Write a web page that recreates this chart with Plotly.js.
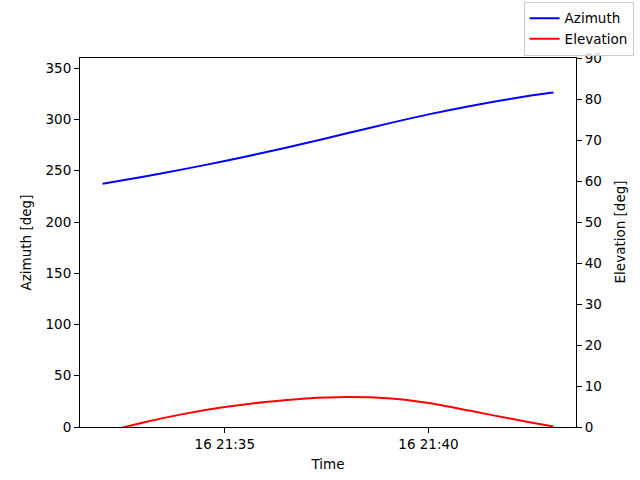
<!DOCTYPE html>
<html>
<head>
<meta charset="utf-8">
<script src="https://cdn.plot.ly/plotly-3.0.1.min.js"></script>
<style>
  html, body { margin: 0; padding: 0; background: #fff; }
  #chart { width: 640px; height: 480px; }
</style>
</head>
<body>
<div id="chart"></div>
<script>
// pass times, one reading a minute plus the last sample
const times = [
  "2024-01-16 21:32:00", "2024-01-16 21:33:00", "2024-01-16 21:34:00",
  "2024-01-16 21:35:00", "2024-01-16 21:36:00", "2024-01-16 21:37:00",
  "2024-01-16 21:38:00", "2024-01-16 21:39:00", "2024-01-16 21:40:00",
  "2024-01-16 21:41:00", "2024-01-16 21:42:00", "2024-01-16 21:43:00",
  "2024-01-16 21:43:04",
];
const azimuth = [237.3, 244.2, 251.6, 259.5, 268.0, 277.0, 286.5, 296.0, 305.0, 313.0, 320.0, 326.0, 326.3];
const elevation = [-1.4, 1.1, 3.2, 4.85, 6.1, 6.95, 7.3, 7.0, 5.85, 4.0, 2.05, 0.25, 0.1];

const FONT = { family: "DejaVu Sans, sans-serif", size: 13.5, color: "#000" };

const axisCommon = {
  showline: true,
  linecolor: "#000",
  linewidth: 1,
  ticks: "outside",
  ticklen: 5,
  tickwidth: 1,
  tickcolor: "#000",
  showgrid: false,
  zeroline: false,
  automargin: false,
  tickfont: FONT,
};

Plotly.newPlot(
  "chart",
  [
    {
      name: "Azimuth", type: "scatter", mode: "lines",
      x: times, y: azimuth, yaxis: "y",
      line: { color: "#0000ff", width: 2, shape: "spline", smoothing: 0.8 },
    },
    {
      name: "Elevation", type: "scatter", mode: "lines",
      x: times, y: elevation, yaxis: "y2",
      line: { color: "#ff0000", width: 2, shape: "spline", smoothing: 0.8 },
    },
  ],
  {
    width: 640,
    height: 480,
    // legend sits outside the axes, don't let it shrink the plot
    margin: { l: 80, r: 64, t: 58, b: 53, autoexpand: false },
    paper_bgcolor: "#fff",
    plot_bgcolor: "#fff",
    font: FONT,
    showlegend: true,
    legend: {
      xref: "container", yref: "container",
      x: 0.99, y: 0.996, xanchor: "right", yanchor: "top",
      bordercolor: "#cccccc", borderwidth: 1, bgcolor: "rgba(255,255,255,0.8)",
      tracegroupgap: 0, itemwidth: 30,
      font: FONT,
    },
    xaxis: {
      ...axisCommon,
      mirror: true,
      type: "date",
      range: ["2024-01-16 21:31:26.8", "2024-01-16 21:43:37.2"],
      tick0: "2024-01-16 21:30:00",
      dtick: 300000,
      tickformat: "%d %H:%M",
      title: { text: "Time", font: FONT, standoff: 8 },
    },
    yaxis: {
      ...axisCommon,
      range: [0, 360],
      dtick: 50,
      title: { text: "Azimuth [deg]", font: FONT, standoff: 10 },
    },
    yaxis2: {
      ...axisCommon,
      overlaying: "y",
      side: "right",
      range: [0, 90],
      dtick: 10,
    },
    // the overlaying axis title lands inside the plot, so place it by hand
    annotations: [
      {
        text: "Elevation [deg]", font: FONT, showarrow: false,
        xref: "paper", yref: "paper", x: 1.0887, y: 0.53,
        xanchor: "center", yanchor: "middle", textangle: -90,
      },
    ],
  },
  { displayModeBar: false, staticPlot: true }
);
</script>
</body>
</html>
